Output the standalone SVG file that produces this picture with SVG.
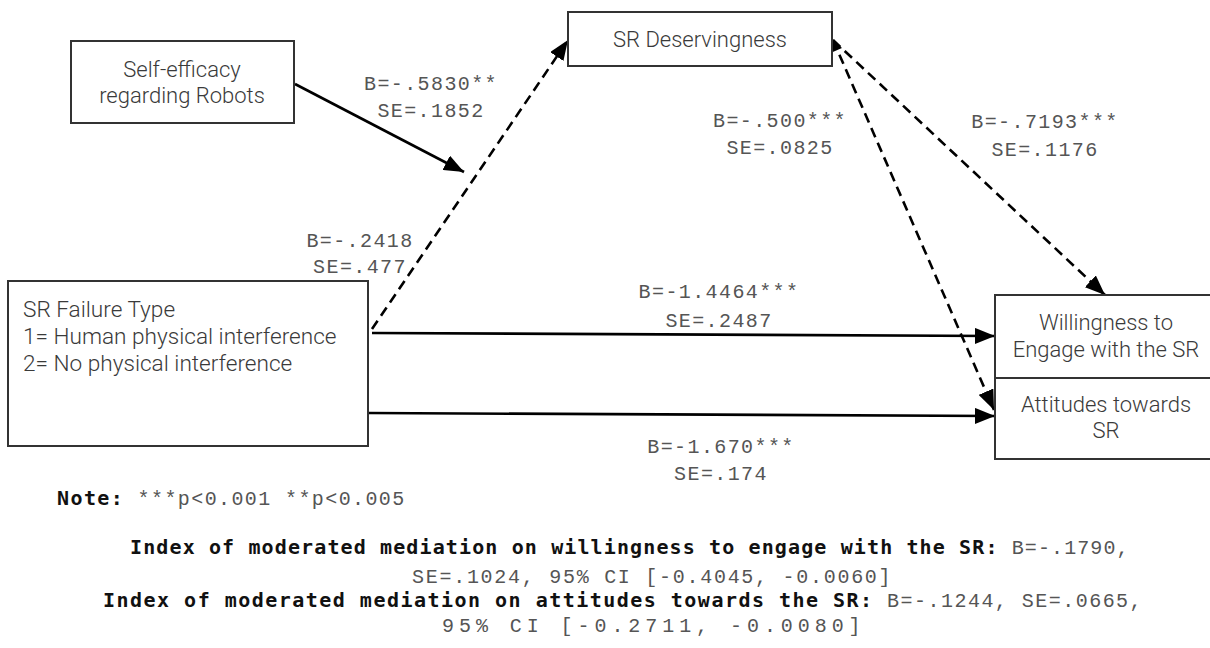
<svg xmlns="http://www.w3.org/2000/svg" width="1210" height="648" viewBox="0 0 1210 648">
<style>
.box{fill:#fff;stroke:#333;stroke-width:2}
.lbl{font-family:Roboto,"Noto Sans",sans-serif;font-weight:300;font-size:22px;fill:#3a3a3a}
.big{font-size:22.6px}
.mono{font-family:"Liberation Mono","DejaVu Sans Mono",monospace;font-size:20px;fill:#555;letter-spacing:1.4px}
.bold{font-family:"DejaVu Sans Mono","Liberation Mono",monospace;font-weight:bold;fill:#111}
.solid{stroke:#000;stroke-width:2.6;fill:none}
.dash{stroke:#000;stroke-width:2.6;fill:none;stroke-dasharray:10 6}
</style>
<defs>
<marker id="ah" markerUnits="userSpaceOnUse" markerWidth="22" markerHeight="16" refX="20" refY="8" orient="auto">
<path d="M0,0 L20,8 L0,16 Z" fill="#000"/>
</marker>
<marker id="as" markerUnits="userSpaceOnUse" markerWidth="12" markerHeight="10" refX="0" refY="5" orient="auto">
<path d="M11,0 L0,5 L11,10 Z" fill="#000"/>
</marker>
</defs>
<rect width="1210" height="648" fill="#fff"/>
<g id="connectors">
<line class="solid" x1="295" y1="84" x2="464" y2="172" marker-end="url(#ah)"/>
<line class="dash" x1="372" y1="329" x2="568" y2="40" marker-end="url(#ah)"/>
<line class="dash" x1="833" y1="40" x2="1105" y2="295" marker-end="url(#ah)"/>
<line class="dash" x1="833" y1="40" x2="994" y2="410" marker-start="url(#as)" marker-end="url(#ah)"/>
<line class="solid" x1="372" y1="333" x2="995" y2="336" marker-end="url(#ah)"/>
<line class="solid" x1="368" y1="413" x2="995" y2="416" marker-end="url(#ah)"/>
</g>
<g id="self-efficacy">
<rect class="box" x="71" y="41" width="223" height="82"/>
<text class="lbl" x="182" y="77" text-anchor="middle">Self-efficacy</text>
<text class="lbl" x="182" y="103" text-anchor="middle">regarding Robots</text>
</g>
<g id="sr-deservingness">
<rect class="box" x="568" y="12" width="264" height="54"/>
<text class="lbl" x="700" y="47" text-anchor="middle">SR Deservingness</text>
</g>
<g id="sr-failure-type">
<rect class="box" x="8" y="281" width="360" height="165"/>
<text class="lbl big" x="23" y="317">SR Failure Type</text>
<text class="lbl big" x="23" y="344">1= Human physical interference</text>
<text class="lbl big" x="23" y="371">2= No physical interference</text>
</g>
<g id="willingness">
<rect class="box" x="995" y="295" width="222" height="83"/>
<text class="lbl" x="1106" y="330" text-anchor="middle">Willingness to</text>
<text class="lbl" x="1106" y="357" text-anchor="middle">Engage with the SR</text>
</g>
<g id="attitudes">
<rect class="box" x="995" y="378" width="222" height="81"/>
<text class="lbl" x="1106" y="412" text-anchor="middle">Attitudes towards</text>
<text class="lbl" x="1106" y="438" text-anchor="middle">SR</text>
</g>
<g id="edge-labels" class="mono" text-anchor="middle">
<text x="431" y="90">B=-.5830**</text>
<text x="431" y="117">SE=.1852</text>
<text x="360" y="247">B=-.2418</text>
<text x="360" y="273">SE=.477</text>
<text x="780" y="127">B=-.500***</text>
<text x="780" y="154">SE=.0825</text>
<text x="1045" y="128">B=-.7193***</text>
<text x="1045" y="156">SE=.1176</text>
<text x="719" y="298">B=-1.4464***</text>
<text x="719" y="327">SE=.2487</text>
<text x="721" y="453">B=-1.670***</text>
<text x="721" y="480">SE=.174</text>
</g>
<g id="notes" class="mono">
<text x="57" y="505"><tspan class="bold">Note:</tspan> ***p&lt;0.001 **p&lt;0.005</text>
<text x="130" y="554" textLength="1000" lengthAdjust="spacing"><tspan class="bold">Index of moderated mediation on willingness to engage with the SR:</tspan> B=-.1790,</text>
<text x="412" y="583" textLength="480" lengthAdjust="spacing">SE=.1024, 95% CI [-0.4045, -0.0060]</text>
<text x="103" y="607" textLength="1040" lengthAdjust="spacing"><tspan class="bold">Index of moderated mediation on attitudes towards the SR:</tspan> B=-.1244, SE=.0665,</text>
<text x="442" y="632" textLength="420" lengthAdjust="spacing">95% CI [-0.2711, -0.0080]</text>
</g>
</svg>
